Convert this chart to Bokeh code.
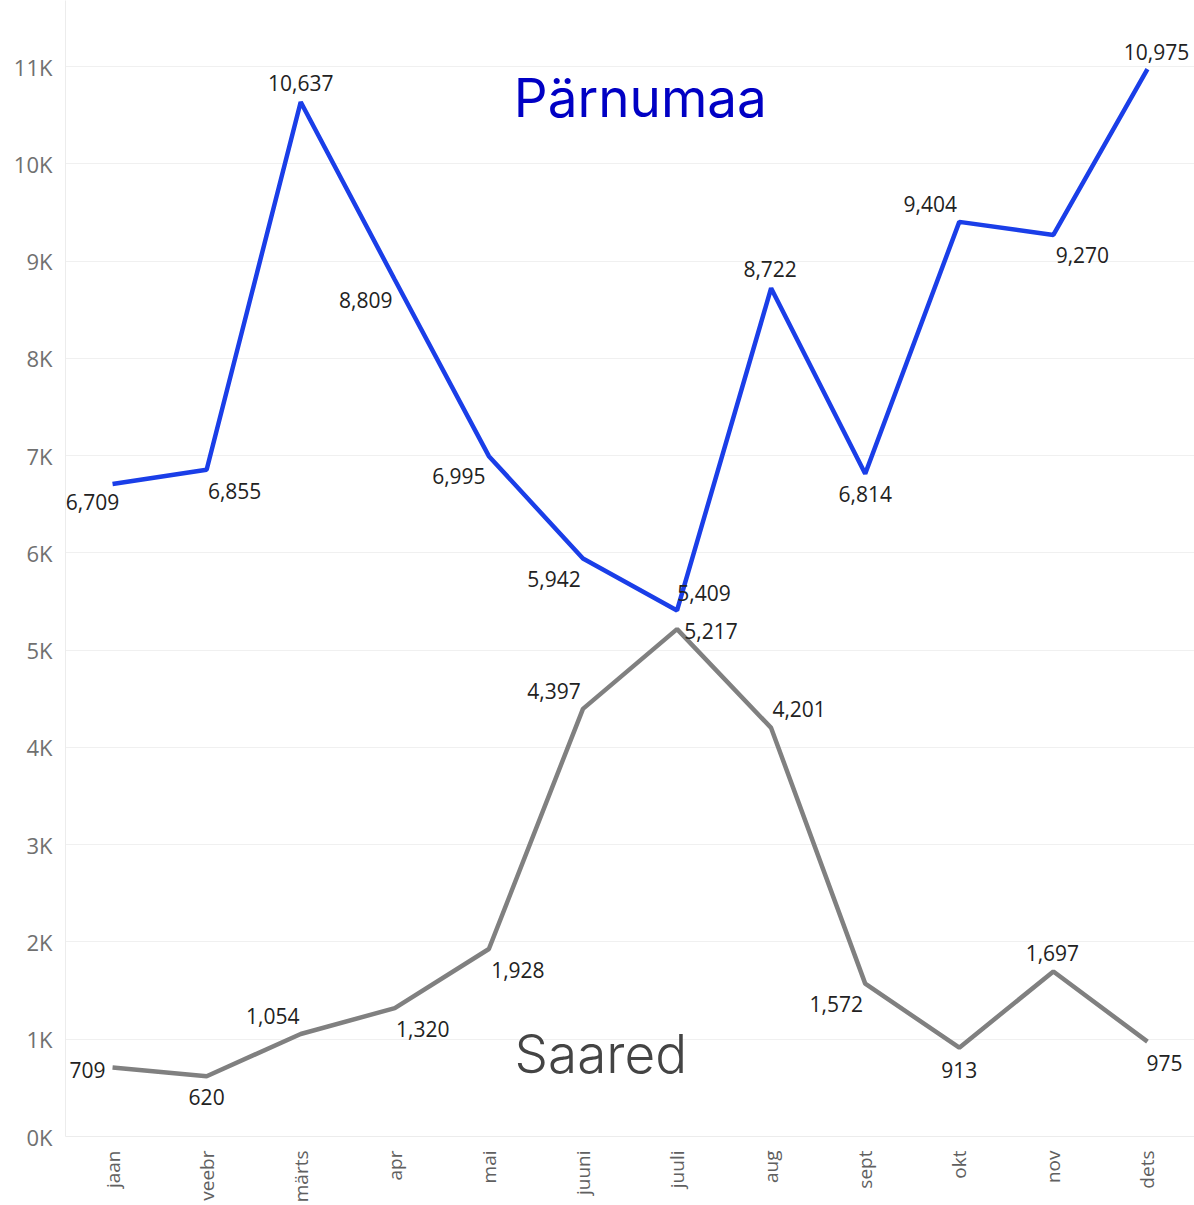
import math
from bokeh.plotting import figure
from bokeh.models import (ColumnDataSource, Range1d, FactorRange, SingleIntervalTicker,
                          CustomJSTickFormatter, Label)
from bokeh.core.properties import value
from bokeh.embed import file_html
from bokeh.resources import INLINE

# ---- data ----
months = ["jaan", "veebr", "märts", "apr", "mai", "juuni", "juuli", "aug", "sept", "okt", "nov", "dets"]
parnumaa = [6709, 6855, 10637, 8809, 6995, 5942, 5409, 8722, 6814, 9404, 9270, 10975]
saared = [709, 620, 1054, 1320, 1928, 4397, 5217, 4201, 1572, 913, 1697, 975]
series_names = ["Pärnumaa", "Saared"]

# ---- label placement (pixel offsets from the point) ----
p_dx = [-20, 28, 0, -29, -30, -29, 27, -1, 0, -29, 29, 9]
p_dy = [18, 21, -19, 20, 20, 20, -17, -19, 20, -18, 20, -17]
s_dx = [-25, 0, -28, 28, 29, -29, 34, 28, -29, 0, -1, 17]
s_dy = [2, 21, -18, 21, 21, -18, 2, -19, 20, 22, -18, 21]

FONT = "Open Sans"
BLUE = "#1a3ee8"
GREY = "#808080"

p = figure(width=1194, height=1205, x_range=FactorRange(*months, range_padding=0),
           y_range=Range1d(0, 11680), output_backend="svg", toolbar_location=None,
           min_border_left=65, min_border_right=0, min_border_top=0, min_border_bottom=69)
p.outline_line_color = None
p.background_fill_color = "white"
p.border_fill_color = "white"

p.xgrid.grid_line_color = None
p.ygrid.grid_line_color = "#f0f0f0"
p.ygrid.grid_line_width = 1

p.yaxis.ticker = SingleIntervalTicker(interval=1000, num_minor_ticks=0)
p.yaxis.formatter = CustomJSTickFormatter(code="return (tick/1000).toFixed(0) + 'K';")
for ax in (p.xaxis[0], p.yaxis[0]):
    ax.axis_line_color = "#ececec"
    ax.major_tick_line_color = None
    ax.minor_tick_line_color = None
    ax.major_label_text_font = FONT
p.yaxis.major_label_text_font_size = "22px"
p.xaxis.major_label_text_font_size = "19px"
p.yaxis.major_label_text_color = "#707070"
p.yaxis.major_label_standoff = 7
p.xaxis.major_label_text_color = "#606060"
p.xaxis.major_label_orientation = math.pi / 2
p.xaxis.major_label_standoff = 8

src_p = ColumnDataSource(dict(x=months, y=parnumaa, t=[f"{v:,}" for v in parnumaa], dx=p_dx, dy=p_dy))
src_s = ColumnDataSource(dict(x=months, y=saared, t=[f"{v:,}" for v in saared], dx=s_dx, dy=s_dy))

p.line("x", "y", source=src_p, line_color=BLUE, line_width=4.5)
p.line("x", "y", source=src_s, line_color=GREY, line_width=4.5)

for src in (src_p, src_s):
    p.text("x", "y", text="t", x_offset="dx", y_offset="dy", source=src,
           text_font=value(FONT), text_font_size="21px", text_color="#222222",
           text_align="center", text_baseline="middle")

p.add_layout(Label(x=6.11, y=10681, text=series_names[0], text_font="Inter",
                   text_font_size="53px", text_color="#0000c4", text_align="center",
                   text_baseline="alphabetic"))
p.add_layout(Label(x=5.69, y=853, text=series_names[1], text_font="Inter Light",
                   text_font_size="53px", text_color="#444444", text_align="center",
                   text_baseline="alphabetic"))

open("out.html", "w").write(file_html(p, INLINE))
